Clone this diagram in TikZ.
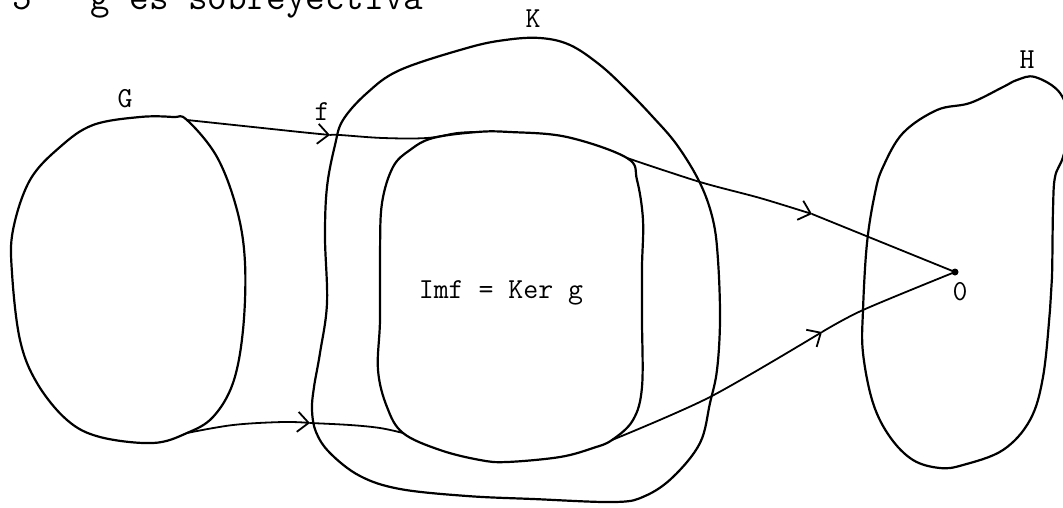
\documentclass[tikz,border=0pt]{standalone}
\usetikzlibrary{arrows.meta}
\begin{document}
\begin{tikzpicture}[x=1pt,y=-1pt,
  blob/.style={draw=black,line width=2.2pt,line join=round},
  conn/.style={draw=black,line width=1.8pt,line cap=round},
  tip/.style={conn,-{Straight Barb[length=11pt,width=20pt,line width=1.8pt]}},
  lab/.style={font=\fontsize{29}{30}\ttfamily\selectfont,inner sep=0pt},
  head/.style={font=\fontsize{38}{40}\ttfamily\selectfont,inner sep=0pt}]
\useasboundingbox (0,0) rectangle (1063,507);
\fill[white] (0,0) rectangle (1063,507);
\begin{scope}
\clip (0,0) rectangle (1063,507);
% header
\node[head,anchor=base west] (title) at (12,9.5) {5~~~g es sobreyectiva};
% junction coordinates
\coordinate (gt) at (187,120);
\coordinate (gb) at (187,433);
\coordinate (it) at (477,132);
\coordinate (ib) at (403,433);
\coordinate (itr) at (627,158);
\coordinate (ibr) at (612,440);
\coordinate (a1) at (330,135);
\coordinate (a2) at (310,423);
\coordinate (a3) at (812,214);
\coordinate (a4) at (822,332);
\coordinate (zero) at (955,272);
% G
\draw[blob] plot[smooth cycle,tension=0.6] coordinates {(gt) (173,117) (140,117) (93,125) (60,147) (30,180) (13,230) (12,273) (20,340) (37,383) (67,420) (100,437) (153,443) (gb) (213,417) (233,383) (243,330) (245,263) (237,210) (217,157)};
% K
\draw[blob] plot[smooth cycle,tension=0.6] coordinates {(505,40) (540,38) (570,45) (600,65) (627,90) (652,116) (677,145) (700,183) (713,220) (718,260) (720,320) (717,370) (710,403) (700,443) (673,477) (645,496) (615,502) (533,499) (467,496) (400,489) (360,476) (330,453) (316,432) (312,410) (314,387) (320,353) (327,303) (325,237) (327,187) (335,145) (343,120) (367,93) (400,70) (467,48)};
% Imf
\draw[blob] plot[smooth cycle,tension=0.6] coordinates {(it) (510,132) (567,137) (itr) (637,180) (643,220) (642,267) (642,320) (642,387) (633,420) (ibr) (593,448) (560,457) (507,462) (480,460) (440,450) (ib) (387,407) (378,370) (380,320) (380,253) (382,203) (393,167) (410,150) (433,138)};
% H
\draw[blob] plot[smooth cycle,tension=0.6] coordinates {(1035,77) (1060,93) (1070,125) (1063,157) (1055,177) (1053,210) (1052,277) (1050,310) (1043,377) (1030,420) (1003,450) (963,465) (940,468) (913,460) (890,437) (873,403) (863,353) (863,310) (867,243) (875,193) (883,167) (903,133) (937,110) (970,103) (1003,87) (1017,80)};
% connectors f
\draw[tip] plot[smooth,tension=0.6] coordinates {(gt) (253,127) (300,132) (a1)};
\draw[conn] plot[smooth,tension=0.6] coordinates {(a1) (340,135) (383,138) (427,138) (457,133) (it)};
\draw[tip] plot[smooth,tension=0.6] coordinates {(gb) (233,425) (283,422) (a2)};
\draw[conn] plot[smooth,tension=0.6] coordinates {(a2) (350,425) (380,428) (ib)};
% connectors g
\draw[tip] plot[smooth,tension=0.5] coordinates {(itr) (700,182) (760,198) (a3)};
\draw[conn] (a3) -- (zero);
\draw[tip] plot[smooth,tension=0.5] coordinates {(ibr) (710,397) (a4)};
\draw[conn] plot[smooth,tension=0.5] coordinates {(a4) (863,310) (zero)};
\fill (zero) circle (3.5pt);
% labels
\node[lab,anchor=base] (lG) at (125,107) {G};
\node[lab,anchor=base] (lf) at (322,120) {f};
\node[lab,anchor=base] (lK) at (533,27) {K};
\node[lab,anchor=base] (lH) at (1027,68) {H};
\node[lab,anchor=base] (l0) at (960,300) {0};
\node[lab,anchor=base] (limf) at (501,298) {Imf = Ker g};
\end{scope}
\end{tikzpicture}
\end{document}
